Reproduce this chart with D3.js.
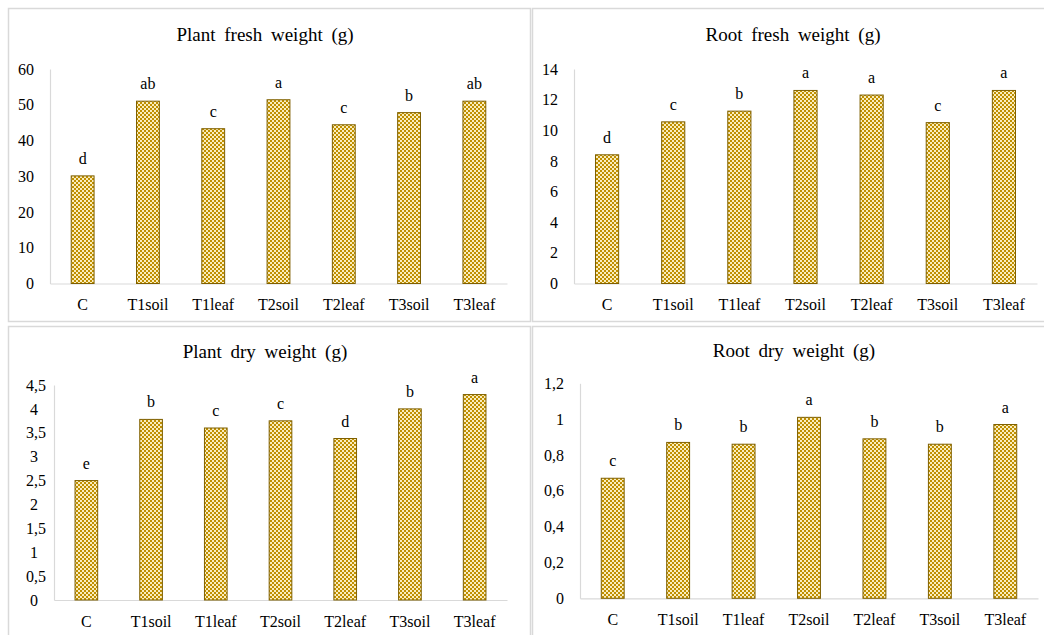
<!DOCTYPE html>
<html>
<head>
<meta charset="utf-8">
<script src="https://cdn.jsdelivr.net/npm/d3@7"></script>
<style>
  html, body { margin: 0; padding: 0; background: #fff; }
  svg { display: block; }
</style>
</head>
<body>
<svg id="chart" width="1044" height="635"></svg>
<script>
// ---------- data ----------
const categories = ["C", "T1soil", "T1leaf", "T2soil", "T2leaf", "T3soil", "T3leaf"];

const plantFreshValues  = [30.1, 51.0, 43.3, 51.4, 44.4, 47.8, 51.0];
const plantFreshLetters = ["d", "ab", "c", "a", "c", "b", "ab"];
const plantFreshTicks   = [0, 10, 20, 30, 40, 50, 60];

const rootFreshValues  = [8.4, 10.55, 11.25, 12.6, 12.3, 10.5, 12.6];
const rootFreshLetters = ["d", "c", "b", "a", "a", "c", "a"];
const rootFreshTicks   = [0, 2, 4, 6, 8, 10, 12, 14];

const plantDryValues  = [2.5, 3.78, 3.6, 3.75, 3.38, 4.0, 4.3];
const plantDryLetters = ["e", "b", "c", "c", "d", "b", "a"];
const plantDryTicks   = [0, 0.5, 1, 1.5, 2, 2.5, 3, 3.5, 4, 4.5];

const rootDryValues  = [0.67, 0.87, 0.86, 1.01, 0.89, 0.86, 0.97];
const rootDryLetters = ["c", "b", "b", "a", "b", "b", "a"];
const rootDryTicks   = [0, 0.2, 0.4, 0.6, 0.8, 1, 1.2];

const titles = ["Plant fresh weight (g)", "Root fresh weight (g)", "Plant dry weight (g)", "Root dry weight (g)"];

// ---------- layout ----------
const FONT = "Liberation Serif";
const panels = [
  { title: titles[0], values: plantFreshValues, letters: plantFreshLetters, ticks: plantFreshTicks,
    box: [8, 8, 522, 313], x0: 50, x1: 507, y0: 283.5, yTop: 69, titleX: 265, titleY: 41, labelY: 310 },
  { title: titles[1], values: rootFreshValues, letters: rootFreshLetters, ticks: rootFreshTicks,
    box: [532, 8, 530, 313], x0: 574, x1: 1037, y0: 283.5, yTop: 69, titleX: 793, titleY: 41, labelY: 310 },
  { title: titles[2], values: plantDryValues, letters: plantDryLetters, ticks: plantDryTicks,
    box: [8, 326, 522, 330], x0: 54, x1: 507, y0: 600, yTop: 385, titleX: 265, titleY: 358, labelY: 627, mixedLabels: true },
  { title: titles[3], values: rootDryValues, letters: rootDryLetters, ticks: rootDryTicks,
    box: [532, 326, 530, 330], x0: 580, x1: 1038, y0: 598.3, yTop: 383.3, titleX: 794, titleY: 357, labelY: 625 }
];

const svg = d3.select("#chart");

// checkered pattern
const defs = svg.append("defs");
const pat = defs.append("pattern")
  .attr("id", "checker").attr("patternUnits", "userSpaceOnUse")
  .attr("width", 4).attr("height", 4);
pat.append("rect").attr("width", 4).attr("height", 4).attr("fill", "#BF8F00");
pat.append("rect").attr("x", 0).attr("y", 0).attr("width", 2).attr("height", 2).attr("fill", "#FAEDBE");
pat.append("rect").attr("x", 2).attr("y", 2).attr("width", 2).attr("height", 2).attr("fill", "#FAEDBE");

const fmt = d => String(d).replace(".", ",");

panels.forEach(p => {
  const g = svg.append("g");

  // panel frame
  g.append("rect")
    .attr("x", p.box[0] + 0.5).attr("y", p.box[1] + 0.5)
    .attr("width", p.box[2]).attr("height", p.box[3])
    .attr("fill", "none").attr("stroke", "#d9d9d9").attr("stroke-width", 1.5);

  const x = d3.scaleBand().domain(categories).range([p.x0, p.x1])
    .paddingInner(0.65).paddingOuter(0.325);
  const y = d3.scaleLinear().domain([0, d3.max(p.ticks)]).range([p.y0, p.yTop]);

  // title
  g.append("text")
    .attr("x", p.titleX).attr("y", p.titleY)
    .attr("text-anchor", "middle")
    .attr("font-family", FONT).attr("font-size", 19).attr("fill", "#000")
    .style("word-spacing", "4px")
    .text(p.title);

  // y axis
  const yAxis = d3.axisLeft(y).tickValues(p.ticks).tickSize(0).tickPadding(16).tickFormat(fmt);
  const ya = g.append("g").attr("transform", `translate(${p.x0},0)`).call(yAxis)
    .attr("font-family", FONT).attr("font-size", 16);
  ya.select(".domain").attr("stroke", "#d9d9d9").attr("stroke-width", 1.2);
  ya.selectAll("text")
    .attr("fill", "#000")
    .attr("x", d => (p.mixedLabels && !Number.isInteger(d)) ? -8 : -16);

  // x axis
  const xAxis = d3.axisBottom(x).tickSize(0).tickPadding(0);
  const xa = g.append("g").attr("transform", `translate(0,${p.y0})`).call(xAxis)
    .attr("font-family", FONT).attr("font-size", 16);
  xa.select(".domain").attr("stroke", "#d9d9d9").attr("stroke-width", 1.2);
  xa.selectAll("text")
    .attr("fill", "#000")
    .attr("y", p.labelY - p.y0).attr("dy", 0);

  // bars
  g.selectAll("rect.bar").data(p.values).enter().append("rect")
    .attr("class", "bar")
    .attr("x", (d, i) => x(categories[i]))
    .attr("y", d => y(d))
    .attr("width", x.bandwidth())
    .attr("height", d => p.y0 - y(d))
    .attr("fill", "url(#checker)")
    .attr("stroke", "#7F6000").attr("stroke-width", 1);

  // letters
  g.selectAll("text.sig").data(p.values).enter().append("text")
    .attr("class", "sig")
    .attr("x", (d, i) => x(categories[i]) + x.bandwidth() / 2)
    .attr("y", d => y(d) - 12)
    .attr("text-anchor", "middle")
    .attr("font-family", FONT).attr("font-size", 16).attr("fill", "#000")
    .text((d, i) => p.letters[i]);
});
</script>
</body>
</html>
